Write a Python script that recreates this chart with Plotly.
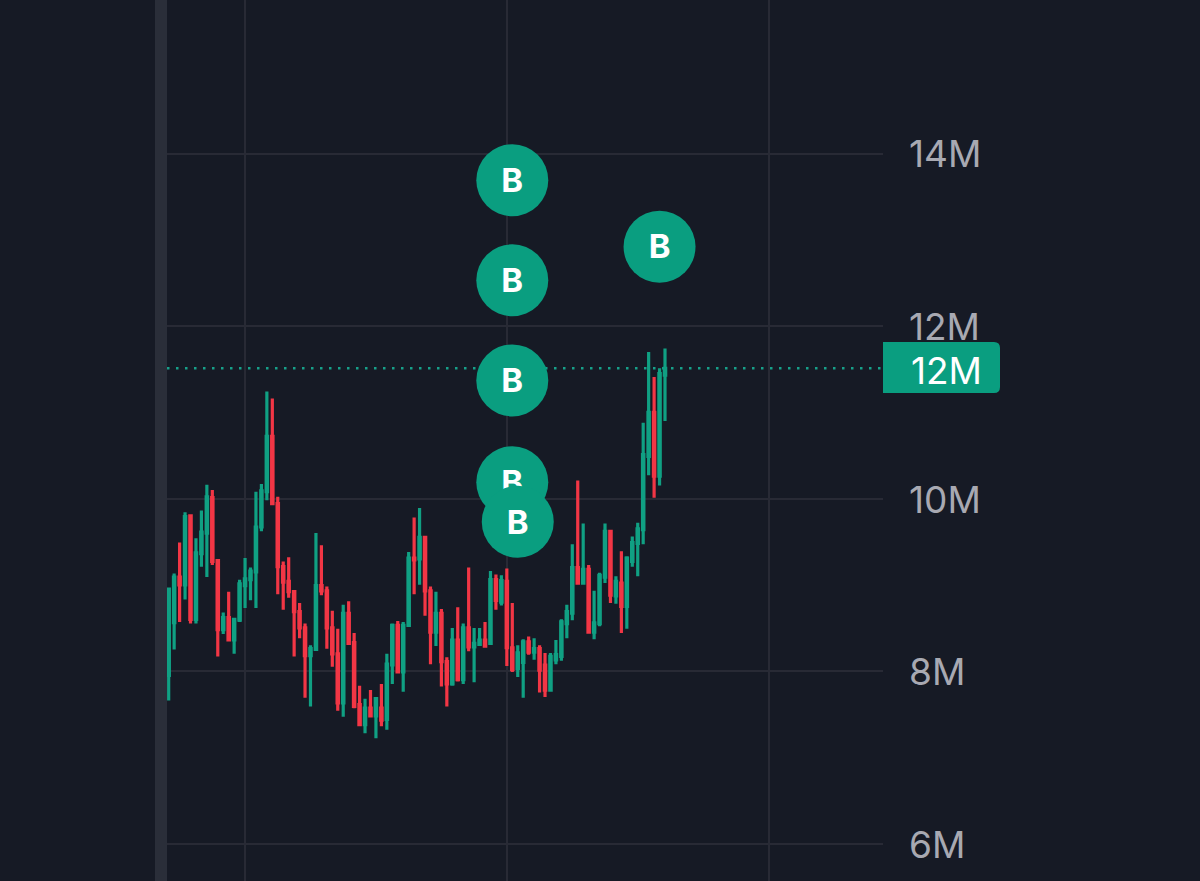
import plotly.graph_objects as go

opens = [7.95,8.56,9.09,9.00,9.80,8.60,9.36,9.60,10.01,9.28,8.48,8.62,8.36,8.59,8.99,9.06,9.15,9.67,10.08,10.72,
         9.94,9.21,9.04,8.92,8.69,8.50,8.18,8.25,8.99,8.93,8.50,8.20,7.63,8.67,8.33,7.61,7.38,7.57,7.48,7.57,
         7.44,8.07,8.53,7.99,8.53,9.31,9.30,9.55,8.93,8.45,8.67,8.11,7.85,8.36,7.90,8.50,8.28,8.31,8.36,8.32,
         9.06,8.80,9.04,8.27,8.03,8.10,8.34,8.22,8.26,8.07,7.78,8.13,8.17,8.55,8.67,9.20,9.02,9.18,8.45,8.55,
         9.09,9.62,8.87,9.02,8.75,9.27,9.48,9.64,10.49,11.00,10.26,11.43]
highs = [8.95,9.13,9.49,9.84,9.81,9.54,9.86,10.16,10.10,9.28,8.68,8.92,8.60,9.06,9.31,9.20,10.08,10.17,11.24,11.16,
         10.02,9.27,9.32,8.92,8.79,8.55,8.30,9.60,9.46,8.98,8.70,8.49,8.77,8.81,8.44,7.83,7.68,7.78,7.68,7.85,
         8.20,8.55,8.58,8.57,9.38,9.78,9.89,9.55,8.98,8.92,8.72,8.16,8.50,8.74,8.55,9.20,8.50,8.50,8.57,9.16,
         9.12,9.11,9.19,8.79,8.30,8.37,8.40,8.38,8.30,8.21,8.21,8.36,8.60,8.77,9.47,10.21,9.71,9.23,8.93,9.14,
         9.71,9.62,9.10,9.39,9.33,9.56,9.72,10.88,11.70,11.41,11.51,11.74]
lows = [7.66,8.25,8.57,8.83,8.55,8.55,9.21,9.09,9.23,8.17,8.43,8.36,8.20,8.57,8.73,8.82,8.73,9.62,9.98,9.93,
        8.89,8.71,8.85,8.17,8.38,7.69,7.59,8.24,8.88,8.26,8.05,7.54,7.47,8.31,7.57,7.37,7.28,7.48,7.22,7.36,
        7.32,7.85,7.99,7.76,8.52,8.89,9.00,8.64,8.08,8.29,7.82,7.59,7.83,7.88,7.85,8.23,7.87,8.29,8.28,8.31,
        8.71,8.76,8.06,7.99,7.93,7.69,8.19,8.13,7.75,7.70,7.78,8.08,8.12,8.38,8.59,9.02,9.02,8.44,8.37,8.52,
        9.02,8.79,8.78,8.44,8.49,9.21,9.10,9.47,10.27,10.01,10.15,10.90]
closes = [8.95,9.09,9.00,9.79,8.60,9.37,9.61,10.02,9.27,8.48,8.62,8.36,8.60,9.01,9.07,9.16,9.67,10.09,10.72,9.94,
          9.21,9.03,8.92,8.69,8.50,8.18,8.26,8.99,8.93,8.50,8.20,7.63,8.67,8.32,7.59,7.38,7.57,7.48,7.68,7.43,
          8.08,8.53,7.99,8.53,9.31,9.29,9.55,8.93,8.45,8.67,8.11,7.85,8.36,7.90,8.50,8.28,8.32,8.36,8.29,9.06,
          8.82,9.05,8.27,8.02,8.21,8.34,8.22,8.26,8.01,7.78,8.17,8.19,8.57,8.69,9.20,9.02,9.18,8.45,8.56,9.11,
          9.62,8.88,9.04,8.75,9.31,9.49,9.65,10.51,11.00,10.26,11.45,11.51]
bars = list(range(len(opens)))

price_ticks = [6, 8, 10, 12, 14]
price_labels = ["6M", "8M", "10M", "12M", "14M"]
time_ticks = [14, 62, 110]
last_price = 11.51
last_label = "12M"

buy_bars = [63, 63, 63, 63, 64, 90]
buy_prices = [13.69, 12.53, 11.37, 10.19, 9.73, 12.92]
buy_label = "B"
label_lift = -0.04

BG = "#161a25"
GRID = "#282a35"
GREEN = "#10a083"
RED = "#f23645"
MARK = "#0a9e80"
TEXT = "#a8a9b2"
FONT = "Inter, Roboto, sans-serif"

fig = go.Figure()
fig.add_trace(go.Candlestick(
    x=bars, open=opens, high=highs, low=lows, close=closes,
    increasing=dict(line=dict(color=GREEN, width=3.2), fillcolor=GREEN),
    decreasing=dict(line=dict(color=RED, width=3.2), fillcolor=RED),
    whiskerwidth=0, showlegend=False,
))
for bar, price in zip(buy_bars, buy_prices):
    fig.add_trace(go.Scatter(
        x=[bar], y=[price], mode="markers",
        marker=dict(size=72, color=MARK, line=dict(width=0)),
        showlegend=False, cliponaxis=False,
    ))
    fig.add_trace(go.Scatter(
        x=[bar], y=[price + label_lift], mode="text", text=[buy_label],
        textposition="middle center",
        textfont=dict(family=FONT, size=33, color="white", weight="bold"),
        showlegend=False, cliponaxis=False,
    ))

fig.add_shape(type="line", xref="paper", x0=0, x1=1, yref="y", y0=last_price, y1=last_price,
              line=dict(color="#17a08a", width=2.5, dash="2.5px,6.5px"), layer="below")
fig.add_shape(type="rect", xref="paper", x0=-12/716, x1=0, yref="paper", y0=0, y1=1,
              fillcolor="#2a2e39", line=dict(width=0), layer="below")
tag_w = 117 / 716
fig.add_shape(type="path", xref="paper", yref="paper", layer="above",
              path=(f"M 1 {1-342/881} L {1+tag_w-6/716} {1-342/881} Q {1+tag_w} {1-342/881} {1+tag_w} {1-348/881} "
                    f"L {1+tag_w} {1-387/881} Q {1+tag_w} {1-393/881} {1+tag_w-6/716} {1-393/881} L 1 {1-393/881} Z"),
              fillcolor=MARK, line=dict(width=0))
fig.add_annotation(xref="paper", yref="y", x=1 + 26/716, y=last_price - 0.02, xanchor="left", yanchor="middle",
                   text=last_label, showarrow=False, font=dict(family=FONT, size=37, color="white"))

fig.update_layout(
    width=1200, height=881, autosize=False,
    margin=dict(l=167, r=317, t=0, b=0),
    paper_bgcolor=BG, plot_bgcolor=BG,
    showlegend=False,
    boxgap=0.75, boxgroupgap=0,
    xaxis=dict(range=[-0.31, 130.97], tickvals=time_ticks, showticklabels=False,
               showgrid=True, gridcolor=GRID, gridwidth=2, zeroline=False, showline=False,
               rangeslider=dict(visible=False), ticks=""),
    yaxis=dict(range=[5.566, 15.78], side="right", tickvals=price_ticks, ticktext=price_labels,
               showgrid=True, gridcolor=GRID, gridwidth=2, zeroline=False, showline=False,
               ticks="", ticklabelstandoff=25, ticklabelshift=1,
               tickfont=dict(family=FONT, size=37, color=TEXT)),
)
fig.write_html("out.html", config=dict(displayModeBar=False),
               post_script=f"document.body.style.margin='0';document.body.style.background='{BG}';")
